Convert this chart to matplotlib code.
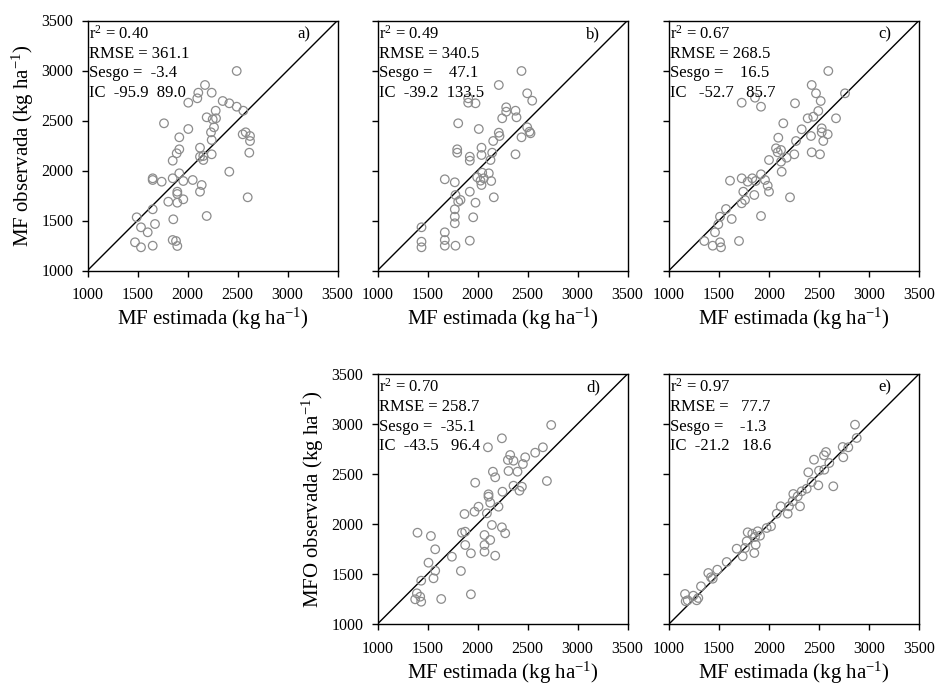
import matplotlib
matplotlib.use("Agg")
import matplotlib.pyplot as plt

plt.rcParams['font.family'] = ['Liberation Serif', 'DejaVu Serif']
plt.rcParams['mathtext.fontset'] = 'custom'
plt.rcParams['mathtext.rm'] = 'Liberation Serif'
plt.rcParams['mathtext.it'] = 'Liberation Serif:italic'

# Panel a) MF estimada vs observada
a_est = [2492, 2175, 2242, 2108, 2098, 2008, 2352, 2418, 2492, 2558, 2282, 2192, 2285, 2252,
         1765, 2265, 2008, 2235, 2582, 2552, 2625, 1918, 2625, 2242, 2125, 1918, 1892, 2242,
         2618, 2158, 2125, 1852, 2158, 2418, 1918, 1652, 1652, 1742, 1852, 1958, 2052, 2142,
         1898, 1898, 2125, 2602, 1808, 1898, 1958, 1652, 2192, 1492, 1858, 1675, 1535, 1602,
         1475, 1535, 1652, 1852, 1885, 1898]
a_obs = [2995, 2855, 2778, 2778, 2722, 2678, 2695, 2672, 2638, 2598, 2598, 2532, 2522, 2512,
         2472, 2432, 2415, 2382, 2382, 2362, 2345, 2332, 2295, 2305, 2228, 2212, 2172, 2162,
         2178, 2145, 2138, 2098, 2105, 1988, 1972, 1922, 1905, 1888, 1922, 1895, 1905, 1855,
         1788, 1765, 1788, 1732, 1688, 1678, 1712, 1612, 1545, 1532, 1512, 1465, 1432, 1382,
         1282, 1232, 1248, 1305, 1295, 1245]

# Panel b)
b_est = [2440, 2213, 2497, 2547, 1907, 1980, 1907, 2287, 2380, 2287, 2247, 2390, 1807, 2013,
         2497, 2530, 2520, 2213, 2220, 2440, 2157, 2040, 1797, 1797, 2147, 2040, 1923, 1923,
         2380, 2130, 2047, 2113, 1997, 2063, 2030, 2040, 2137, 1673, 1773, 1923, 1780, 1830,
         2163, 1807, 1980, 1773, 1773, 1957, 1773, 1440, 1673, 1440, 1440, 1673, 1673, 1780,
         1923]
b_obs = [2995, 2855, 2772, 2698, 2722, 2672, 2678, 2632, 2598, 2588, 2522, 2532, 2472, 2415,
         2432, 2372, 2388, 2378, 2345, 2332, 2295, 2228, 2212, 2178, 2178, 2155, 2138, 2098,
         2162, 2105, 1978, 1972, 1932, 1922, 1898, 1855, 1895, 1912, 1882, 1788, 1755, 1705,
         1732, 1688, 1678, 1612, 1538, 1532, 1472, 1432, 1382, 1288, 1232, 1305, 1248, 1248,
         1298]

# Panel c)
c_est = [2593, 2760, 2427, 2470, 2517, 2260, 1727, 1860, 1920, 2493, 2443, 2387, 2670, 2143,
         2327, 2527, 2527, 2587, 2420, 2093, 2543, 2270, 2070, 2120, 2087, 2427, 2510, 2253,
         2177, 2000, 2120, 2127, 1920, 1833, 1727, 1610, 1960, 1787, 1867, 1987, 1743, 2000,
         1853, 1760, 1727, 2210, 1570, 1510, 1920, 1627, 1493, 1460, 1353, 1437, 1510, 1520,
         1700]
c_obs = [2995, 2772, 2855, 2772, 2695, 2672, 2678, 2728, 2638, 2595, 2538, 2522, 2522, 2472,
         2412, 2422, 2382, 2362, 2345, 2328, 2295, 2295, 2222, 2205, 2182, 2182, 2162, 2162,
         2128, 2105, 2088, 1988, 1962, 1922, 1922, 1898, 1905, 1888, 1895, 1848, 1788, 1788,
         1755, 1705, 1672, 1732, 1615, 1538, 1545, 1515, 1462, 1382, 1295, 1248, 1282, 1232,
         1295]

# Panel d) MFO
d_est = [2737, 2244, 2104, 2654, 2577, 2327, 2477, 2360, 2454, 2304, 2154, 2310, 2400, 2177,
         2694, 1977, 2360, 2444, 2420, 2250, 2110, 2110, 2127, 2210, 2010, 1970, 2094, 1870,
         2144, 2244, 2277, 1844, 1877, 2070, 1400, 1534, 2127, 2070, 1877, 1577, 2070, 1934,
         2177, 1744, 1510, 1577, 1834, 1560, 1437, 1394, 1427, 1377, 1437, 1637, 1934]
d_obs = [2990, 2857, 2767, 2767, 2713, 2690, 2667, 2633, 2600, 2640, 2523, 2530, 2523, 2467,
         2430, 2413, 2383, 2373, 2333, 2323, 2297, 2273, 2213, 2173, 2173, 2123, 2107, 2100,
         1990, 1967, 1907, 1913, 1923, 1890, 1913, 1880, 1840, 1790, 1790, 1747, 1723, 1707,
         1683, 1673, 1613, 1533, 1530, 1457, 1433, 1307, 1273, 1247, 1223, 1250, 1297]

# Panel e)
e_est = [2860, 2877, 2737, 2793, 2743, 2570, 2550, 2603, 2450, 2553, 2500, 2393, 2643, 2493,
         2427, 2377, 2327, 2243, 2287, 2237, 2310, 2200, 2117, 2077, 2187, 2020, 1977, 1887,
         1833, 1787, 1860, 1910, 1777, 1867, 1760, 1677, 1853, 1737, 1577, 1483, 1393, 1437,
         1420, 1320, 1160, 1243, 1187, 1293, 1277, 1167]
e_obs = [2993, 2860, 2770, 2767, 2667, 2720, 2687, 2610, 2643, 2543, 2533, 2517, 2377, 2387,
         2420, 2353, 2327, 2300, 2277, 2227, 2177, 2177, 2177, 2103, 2103, 1977, 1960, 1927,
         1903, 1917, 1870, 1883, 1827, 1793, 1760, 1753, 1710, 1677, 1620, 1543, 1510, 1453,
         1467, 1377, 1300, 1283, 1237, 1260, 1237, 1227]

stats_a = ["r$^2$ = 0.40", "RMSE = 361.1", "Sesgo =  -3.4", "IC  -95.9  89.0"]
stats_b = ["r$^2$ = 0.49", "RMSE = 340.5", "Sesgo =    47.1", "IC  -39.2  133.5"]
stats_c = ["r$^2$ = 0.67", "RMSE = 268.5", "Sesgo =    16.5", "IC   -52.7   85.7"]
stats_d = ["r$^2$ = 0.70", "RMSE = 258.7", "Sesgo =  -35.1", "IC  -43.5   96.4"]
stats_e = ["r$^2$ = 0.97", "RMSE =   77.7", "Sesgo =    -1.3", "IC  -21.2   18.6"]

ticks = [1000, 1500, 2000, 2500, 3000, 3500]

W, H = 939, 686
fig = plt.figure(figsize=(W / 100, H / 100), dpi=100)
fig.patch.set_facecolor('white')


def make_axes(left_px, top_px, size_px=250):
    return fig.add_axes([left_px / W, (H - top_px - size_px) / H, size_px / W, size_px / H])


panels = [
    (make_axes(87.5, 20.5), a_est, a_obs, stats_a, "a)", "MF observada (kg ha$^{-1}$)"),
    (make_axes(377.5, 20.5), b_est, b_obs, stats_b, "b)", None),
    (make_axes(669, 20.5), c_est, c_obs, stats_c, "c)", None),
    (make_axes(377.5, 374), d_est, d_obs, stats_d, "d)", "MFO observada (kg ha$^{-1}$)"),
    (make_axes(669, 374), e_est, e_obs, stats_e, "e)", None),
]

for ax, est, obs, stats, tag, ylab in panels:
    ax.plot(ticks, ticks, color='black', lw=1.0, zorder=2)
    ax.scatter(est, obs, s=38, facecolors='none', edgecolors='#8c8c8c', linewidths=0.9, zorder=3)
    ax.set_xlim(1000, 3500)
    ax.set_ylim(1000, 3500)
    ax.set_xticks(ticks)
    ax.set_yticks(ticks)
    ax.tick_params(direction='out', length=4, width=1, labelsize=11.5, colors='black')
    ax.tick_params(axis='x', pad=8)
    ax.tick_params(axis='y', pad=6)
    for sp in ax.spines.values():
        sp.set_linewidth(1.0)
        sp.set_color('black')
    ax.set_xlabel("MF estimada (kg ha$^{-1}$)", fontsize=15, labelpad=2)
    if ylab:
        ax.set_ylabel(ylab, fontsize=15, labelpad=4)
    else:
        ax.set_yticklabels([])
    for i, line in enumerate(stats):
        ax.text(0.006, 0.929 - i * 0.078, line, transform=ax.transAxes,
                fontsize=12, ha='left', va='baseline')
    ax.text(0.89, 0.929, tag, transform=ax.transAxes, fontsize=12, ha='right', va='baseline')

fig.savefig('out.png', dpi=100, facecolor='white')
